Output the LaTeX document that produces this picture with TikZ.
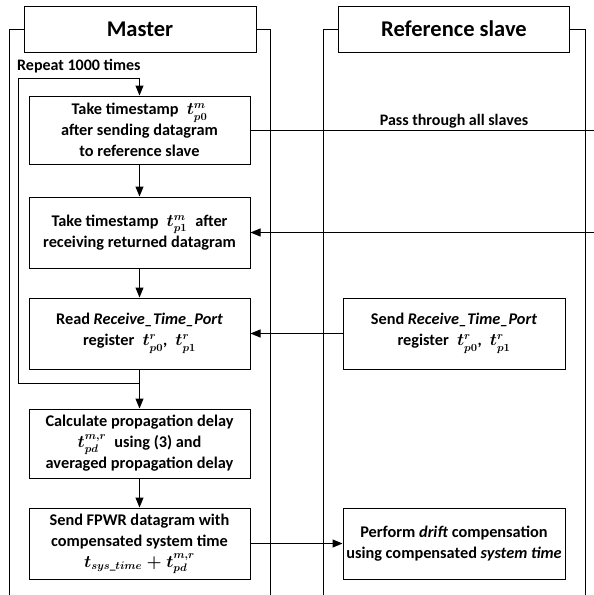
\documentclass[tikz,border=0pt]{standalone}
\usepackage{amsmath}
\usepackage{fontspec}
\setmainfont{Carlito}
\usetikzlibrary{arrows.meta}
\begin{document}
\begin{tikzpicture}[x=1pt,y=-1pt,
  lane/.style={line width=1pt},
  head/.style={draw,line width=1pt,minimum height=46pt,inner sep=0pt,font=\fontsize{22.5}{26}\selectfont\bfseries},
  box/.style={draw,line width=1pt,minimum width=221pt,inner sep=0pt,align=center,font=\fontsize{16.3}{21}\selectfont\bfseries\boldmath},
  arr/.style={line width=1pt,-{Triangle[length=10pt,width=8pt]}},
  ln/.style={line width=1pt},
  lbl/.style={inner sep=0pt,font=\fontsize{16}{18}\selectfont\bfseries}]
\useasboundingbox (0,0) rectangle (594,595);
% headers and lanes
\node[head,minimum width=232pt] (mhead) at (140,29) {Master};
\node[head,minimum width=231pt] (shead) at (454,29) {Reference slave};
\draw[lane] (9,595) |- (mhead.west);
\draw[lane] (mhead.east) -| (270,595);
\draw[lane] (323,595) |- (shead.west);
\draw[lane] (shead.east) -| (585,595);
% master boxes
\node[box,minimum height=68pt] (b1) at (139.5,130) {Take timestamp\enspace$t^{m}_{p0}$\\after sending datagram\\to reference slave};
\node[box,minimum height=71pt] (b2) at (139.5,232.5) {Take timestamp\enspace$t^{m}_{p1}$\enspace after\\receiving returned datagram};
\node[box,minimum height=71pt] (b3) at (139.5,333.5) {Read \textit{Receive\_Time\_Port}\\register\enspace$t^{r}_{p0}$,\enspace$t^{r}_{p1}$};
\node[box,minimum height=69pt] (b4) at (139.5,443.5) {Calculate propagation delay\\$t^{m,r}_{pd}$\enspace using (3) and\\averaged propagation delay};
\node[box,minimum height=71pt] (b5) at (139.5,543.5) {Send FPWR datagram with\\compensated system time\\$t_{sys\_time}+t^{m,r}_{pd}$};
% slave boxes
\node[box,minimum width=222pt,minimum height=71pt] (s1) at (454,333.5) {Send \textit{Receive\_Time\_Port}\\register\enspace$t^{r}_{p0}$,\enspace$t^{r}_{p1}$};
\node[box,minimum width=222pt,minimum height=71pt] (s2) at (454,543.5) {Perform \textit{drift} compensation\\using compensated \textit{system time}};
% loop
\node[lbl,anchor=west] (rep) at (17,66) {Repeat 1000 times};
\coordinate (lbl) at (18,383);
\coordinate (ltl) at (18,78);
\draw[arr] (b3.south) |- (lbl) -- (ltl) -| (b1.north);
% vertical arrows
\draw[arr] (b1) -- (b2);
\draw[arr] (b2) -- (b3);
\draw[arr] (b3) -- (b4);
\draw[arr] (b4) -- (b5);
% horizontal connectors
\coordinate (r1) at (594,130);
\draw[ln] (b1.east) -- (r1);
\node[lbl] (pass) at (454,121) {Pass through all slaves};
\coordinate (r2) at (594,232.5);
\draw[arr] (r2) -- (b2.east);
\draw[arr] (s1.west) -- (b3.east);
\draw[arr] (b5.east) -- (s2.west);
\end{tikzpicture}
\end{document}
